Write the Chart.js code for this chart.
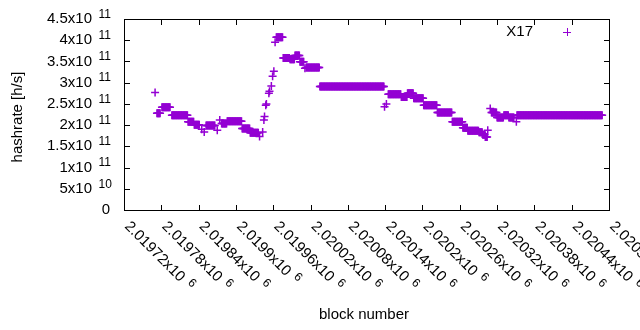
<!DOCTYPE html>
<html>
<head>
<meta charset="utf-8">
<script src="https://cdn.jsdelivr.net/npm/chart.js@4.4.1/dist/chart.umd.min.js"></script>
<style>
  html, body { margin: 0; padding: 0; background: #fff; }
  #wrap { width: 640px; height: 330px; }
</style>
</head>
<body>
<div id="wrap"><canvas id="chart" width="640" height="330"></canvas></div>
<script>
// X17 hashrate, one point per block, read off as runs of equal value
// runStart/runEnd = block numbers, runHashrate = GH/s
const runStart = [
    2019770, 2019773, 2019781, 2019797, 2019823, 2019833, 2019845, 2019849, 2019852, 2019870,
    2019874, 2019877, 2019886, 2019910, 2019923, 2019938, 2019943, 2019945, 2019946, 2019948,
    2019949, 2019953, 2019954, 2019957, 2019959, 2019961, 2019963, 2019965, 2019976, 2019987,
    2019995, 2020003, 2020011, 2020013, 2020035, 2020139, 2020142, 2020145, 2020166, 2020176,
    2020186, 2020202, 2020224, 2020248, 2020265, 2020273, 2020291, 2020297, 2020301, 2020305,
    2020309, 2020311, 2020320, 2020331, 2020339, 2020351, 2020352
];
const runEnd = [
    2019770, 2019778, 2019794, 2019822, 2019832, 2019841, 2019845, 2019849, 2019866, 2019870,
    2019874, 2019885, 2019909, 2019922, 2019936, 2019938, 2019943, 2019945, 2019946, 2019948,
    2019949, 2019953, 2019954, 2019957, 2019959, 2019961, 2019963, 2019975, 2019986, 2019994,
    2020002, 2020009, 2020011, 2020034, 2020138, 2020139, 2020142, 2020165, 2020175, 2020185,
    2020201, 2020223, 2020247, 2020264, 2020272, 2020290, 2020296, 2020300, 2020304, 2020305,
    2020309, 2020319, 2020330, 2020338, 2020347, 2020351, 2020489
];
const runHashrate = [
    277, 228, 242, 223, 208, 201, 190, 184, 199, 188,
    212, 204, 209, 192, 182, 173, 184, 212, 220, 247,
    250, 275, 280, 292, 315, 327, 395, 407, 358, 355,
    364, 349, 334, 336, 291, 243, 250, 273, 266, 275,
    263, 247, 230, 208, 194, 187, 183, 177, 172, 188,
    239, 230, 218, 223, 218, 208, 223
];

const xTicks = [2019720, 2019780, 2019840, 2019900, 2019960, 2020020, 2020080,
                2020140, 2020200, 2020260, 2020320, 2020380, 2020440, 2020500];
const yTicks = [0, 5e10, 1e11, 1.5e11, 2e11, 2.5e11, 3e11, 3.5e11, 4e11, 4.5e11];

const seriesLabel = 'X17';
const purple = '#9400d3';
const FONT = '"Liberation Sans", Arial, sans-serif';

const points = [];
runStart.forEach((start, i) => {
    for (let b = start; b <= runEnd[i]; b++) {
        points.push({ x: b, y: runHashrate[i] * 1e9 });
    }
});

// "4.5x10" + "11" like gnuplot's enhanced text
function sciParts(v) {
    if (v === 0) return ['0', ''];
    const exp = Math.floor(Math.log10(v) + 1e-9);
    const mant = parseFloat((v / Math.pow(10, exp)).toPrecision(6));
    return [mant + 'x10', String(exp)];
}

const gnuplotFrame = {
    id: 'gnuplotFrame',
    afterDraw(chart) {
        const ctx = chart.ctx;
        const area = chart.chartArea;
        const xs = chart.scales.x;
        const ys = chart.scales.y;
        ctx.save();

        // border + inward ticks on all sides
        ctx.strokeStyle = '#000';
        ctx.lineWidth = 1;
        ctx.strokeRect(area.left + 0.5, area.top + 0.5, area.right - area.left, area.bottom - area.top);
        ctx.beginPath();
        yTicks.forEach(v => {
            const y = Math.round(ys.getPixelForValue(v)) + 0.5;
            ctx.moveTo(area.left, y); ctx.lineTo(area.left + 6, y);
            ctx.moveTo(area.right + 1, y); ctx.lineTo(area.right - 5, y);
        });
        xTicks.forEach(v => {
            const x = Math.round(xs.getPixelForValue(v)) + 0.5;
            ctx.moveTo(x, area.bottom + 1); ctx.lineTo(x, area.bottom - 5);
            ctx.moveTo(x, area.top); ctx.lineTo(x, area.top + 6);
        });
        ctx.stroke();

        ctx.fillStyle = '#000';

        // y tick labels
        ctx.textBaseline = 'middle';
        yTicks.forEach(v => {
            const y = ys.getPixelForValue(v);
            const [main, exp] = sciParts(v);
            if (!exp) {
                ctx.font = '15px ' + FONT;
                ctx.textAlign = 'right';
                ctx.fillText(main, 110, y);
                return;
            }
            ctx.font = '12px ' + FONT;
            ctx.textAlign = 'left';
            ctx.fillText(exp, 98.5, y - 4.5);
            ctx.font = '15px ' + FONT;
            ctx.textAlign = 'right';
            ctx.fillText(main, 92, y);
        });

        // x tick labels, rotated -45 (gnuplot sense)
        xTicks.forEach(v => {
            const x = xs.getPixelForValue(v);
            const [main, exp] = sciParts(v);
            ctx.save();
            ctx.translate(x, 227);
            ctx.rotate(Math.PI / 4);
            ctx.textAlign = 'left';
            ctx.textBaseline = 'alphabetic';
            ctx.font = '15px ' + FONT;
            ctx.fillText(main, 0, 0);
            const w = ctx.measureText(main).width;
            ctx.font = '12px ' + FONT;
            ctx.fillText(exp, w + 6, -5);
            ctx.restore();
        });

        // axis titles
        ctx.font = '15px ' + FONT;
        ctx.textAlign = 'center';
        ctx.textBaseline = 'middle';
        ctx.fillText('block number', 364, 315);
        ctx.save();
        ctx.translate(17.5, 117);
        ctx.rotate(-Math.PI / 2);
        ctx.fillText('hashrate [h/s]', 0, 0);
        ctx.restore();

        // key
        ctx.textAlign = 'right';
        ctx.fillText(seriesLabel, 533, 32);
        ctx.strokeStyle = purple;
        ctx.beginPath();
        ctx.moveTo(563, 32.5); ctx.lineTo(571, 32.5);
        ctx.moveTo(567.5, 28); ctx.lineTo(567.5, 36);
        ctx.stroke();

        ctx.restore();
    }
};

new Chart(document.getElementById('chart'), {
    type: 'scatter',
    data: {
        datasets: [{
            label: seriesLabel,
            data: points,
            pointStyle: 'cross',
            pointRadius: 4,
            borderWidth: 1.5,
            borderColor: purple,
            backgroundColor: purple
        }]
    },
    options: {
        responsive: false,
        animation: false,
        events: [],
        layout: { padding: { left: 124, right: 31, top: 19, bottom: 120 } },
        plugins: {
            legend: { display: false },
            tooltip: { enabled: false }
        },
        scales: {
            x: { type: 'linear', min: 2019720, max: 2020500, display: false },
            y: { type: 'linear', min: 0, max: 4.5e11, display: false }
        }
    },
    plugins: [gnuplotFrame]
});
</script>
</body>
</html>
